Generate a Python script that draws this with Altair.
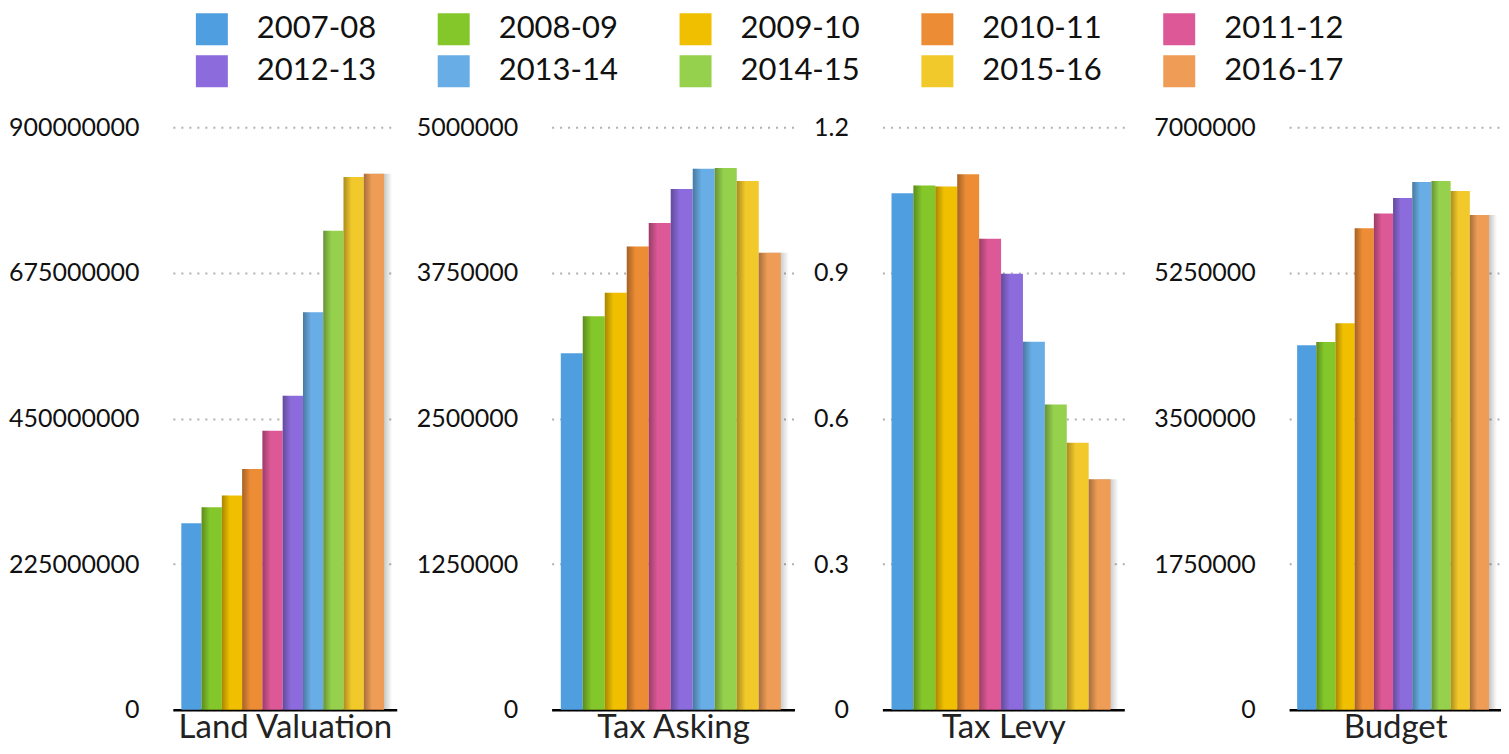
import altair as alt
import pandas as pd

years = ["2007-08", "2008-09", "2009-10", "2010-11", "2011-12",
         "2012-13", "2013-14", "2014-15", "2015-16", "2016-17"]
colors = ["#4f9fe0", "#84c72a", "#f0c000", "#ec8c35", "#dc5896",
          "#8c6bdc", "#68ade5", "#95d14c", "#f2c92a", "#ef9d56"]

measures = ["Land Valuation", "Tax Asking", "Tax Levy", "Budget"]
land_valuation = [288e6, 313e6, 331e6, 372e6, 431e6, 485e6, 614e6, 740e6, 823e6, 828e6]
tax_asking = [3060000, 3377000, 3580000, 3975000, 4178000, 4470000, 4644000, 4650000, 4537000, 3922000]
tax_levy = [1.064, 1.080, 1.078, 1.103, 0.970, 0.898, 0.758, 0.629, 0.550, 0.475]
budget = [4379000, 4419000, 4643000, 5784000, 5964000, 6148000, 6342000, 6352000, 6233000, 5944000]
series = [land_valuation, tax_asking, tax_levy, budget]

y_max = [900000000, 5000000, 1.2, 7000000]
y_ticks = [
    [0, 225000000, 450000000, 675000000, 900000000],
    [0, 1250000, 2500000, 3750000, 5000000],
    [0, 0.3, 0.6, 0.9, 1.2],
    [0, 1750000, 3500000, 5250000, 7000000],
]
y_formats = ["d", "d", ".1~f", "d"]

panel_widths = [224, 243, 242, 212]
axis_extents = [165, 155, 88, 165]
plot_height = 583

FONT = "Lato"

shade_gradient = alt.Gradient(
    gradient="linear", x1=0, x2=1, y1=0, y2=0,
    stops=[alt.GradientStop(offset=0, color="rgba(0,0,0,0.30)"),
           alt.GradientStop(offset=0.4, color="rgba(0,0,0,0)")],
)
edge_gradient = alt.Gradient(
    gradient="linear", x1=0, x2=1, y1=0, y2=0,
    stops=[alt.GradientStop(offset=0.6, color="rgba(0,0,0,0.22)"),
           alt.GradientStop(offset=1, color="rgba(0,0,0,0)")],
)

legend = alt.Legend(
    title=None, orient="none", legendX=23, legendY=-114, columns=5,
    direction="horizontal",
    symbolType="square", symbolSize=1024, symbolStrokeWidth=0,
    labelFont=FONT, labelFontSize=31, labelColor="#111", labelOffset=29,
    columnPadding=61, rowPadding=10, gridAlign="all", padding=0,
)

panels = []
for i, m in enumerate(measures):
    df = pd.DataFrame({"year": years, "value": series[i]})
    base = alt.Chart(df).encode(
        x=alt.X("year:N", sort=years,
                scale=alt.Scale(paddingInner=0, paddingOuter=0.52, align=0.4),
                axis=alt.Axis(labels=False, ticks=False, grid=False,
                              domain=True, domainColor="#000", domainWidth=2.5,
                              title=m, titleFont=FONT, titleFontSize=33,
                              titleFontWeight="normal", titleColor="#222",
                              titlePadding=2)),
        y=alt.Y("value:Q",
                scale=alt.Scale(domain=[0, y_max[i]], nice=False, zero=True),
                axis=alt.Axis(values=y_ticks[i], format=y_formats[i], title=None,
                              domain=False, ticks=False, labelPadding=34,
                              labelFont=FONT, labelFontSize=25, labelColor="#111",
                              grid=True, gridDash=[2, 6], gridColor="#b0b0b0",
                              gridWidth=2, minExtent=axis_extents[i],
                              maxExtent=axis_extents[i])),
    )
    edge = base.transform_filter(alt.datum.year == years[-1]).mark_bar(
        color=edge_gradient, xOffset=8)
    bars = base.mark_bar().encode(
        color=alt.Color("year:N", sort=years,
                        scale=alt.Scale(domain=years, range=colors),
                        legend=legend)
    )
    shade = base.transform_filter(alt.datum.year != years[0]).mark_bar(color=shade_gradient)
    panels.append(alt.layer(edge, bars, shade).properties(width=panel_widths[i], height=plot_height))

chart = (
    alt.hconcat(*panels, spacing=0)
    .resolve_scale(color="shared")
    .resolve_legend(color="shared")
    .configure_view(stroke=None)
    .properties(padding={"left": 0, "top": 5, "right": 0, "bottom": 0})
)

chart.save("out.html", embed_options={"renderer": "svg", "actions": False})
